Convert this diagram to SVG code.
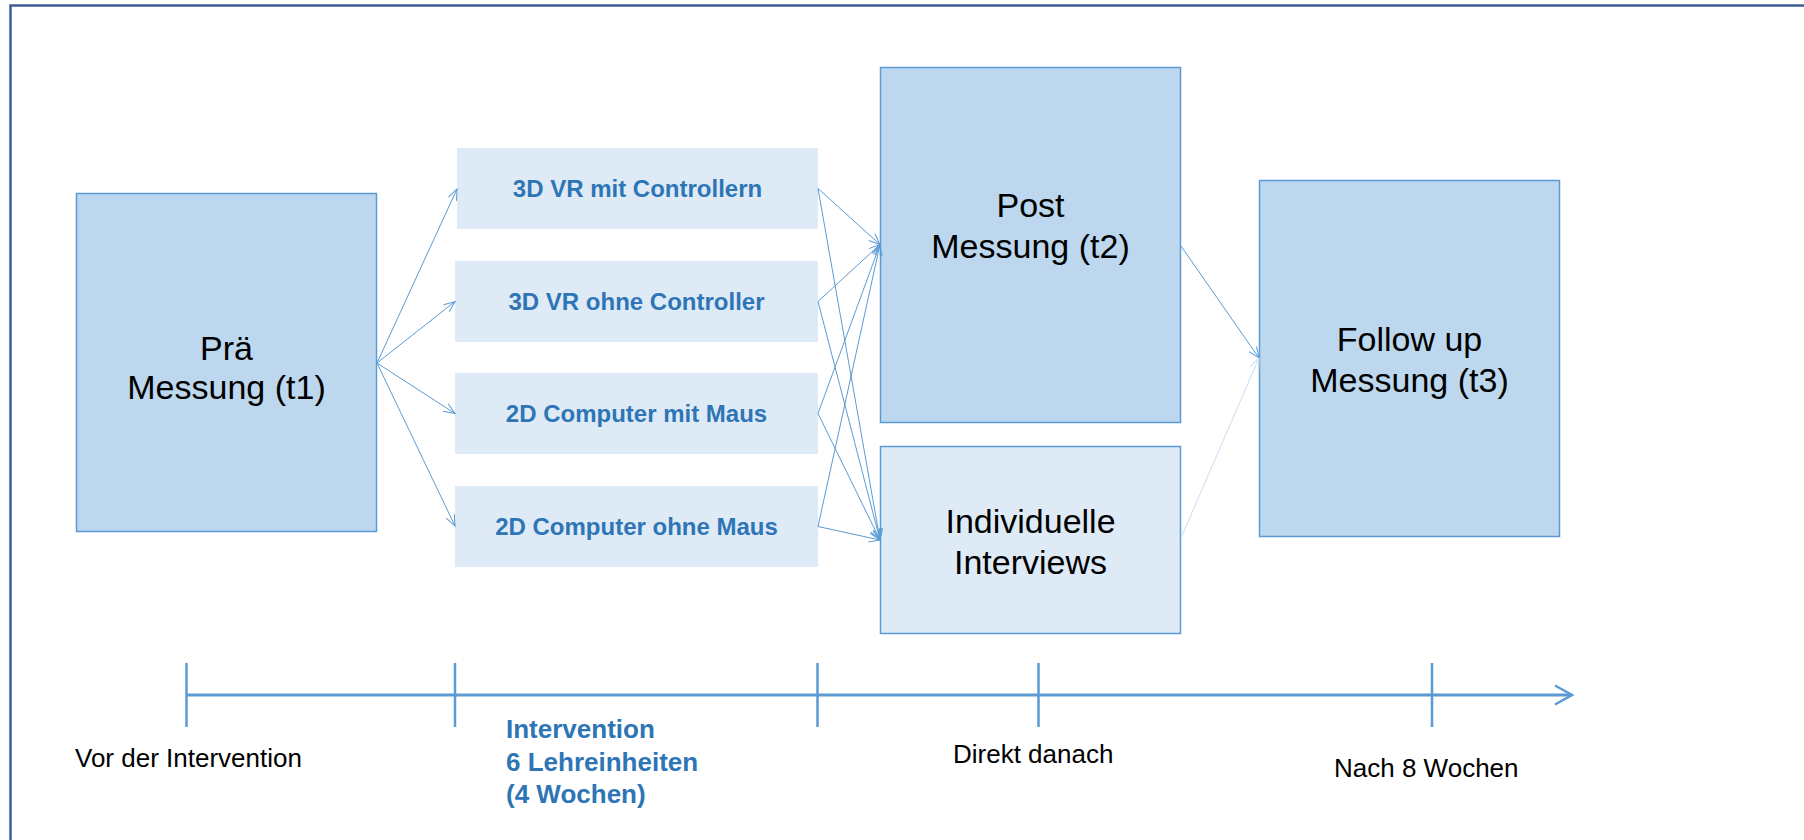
<svg xmlns="http://www.w3.org/2000/svg" width="1804" height="840" viewBox="0 0 1804 840">
<style>
.dark{fill:#bdd7ee;stroke:#5b9bd5;stroke-width:1.5}
.light{fill:#deebf7}
.lightb{fill:#deebf7;stroke:#5b9bd5;stroke-width:1.5}
.big{font-family:"Liberation Sans",Arial,sans-serif;font-size:34px;fill:#000;text-anchor:middle}
.grp{font-family:"Liberation Sans",Arial,sans-serif;font-size:24px;font-weight:bold;fill:#2e75b6;text-anchor:middle}
.lab{font-family:"Liberation Sans",Arial,sans-serif;font-size:26px;fill:#000}
.labb{font-family:"Liberation Sans",Arial,sans-serif;font-size:26px;font-weight:bold;fill:#2e75b6}
.con{stroke:#5b9bd5;stroke-width:1;fill:none;marker-end:url(#arr)}
.faint{stroke:#c9ddf2;stroke-width:1;fill:none;marker-end:url(#arrf)}
.axis{stroke:#5b9bd5;stroke-width:3;fill:none}
.tick{stroke:#5b9bd5;stroke-width:2.5}
</style>
<defs>
<marker id="arr" markerUnits="userSpaceOnUse" markerWidth="14" markerHeight="12" viewBox="-12 -6 14 12" refX="0" refY="0" orient="auto">
<path d="M-11,-4.5 L0,0 L-11,4.5" fill="none" stroke="#5b9bd5" stroke-width="1"/>
</marker>
<marker id="arrf" markerUnits="userSpaceOnUse" markerWidth="14" markerHeight="12" viewBox="-12 -6 14 12" refX="0" refY="0" orient="auto">
<path d="M-11,-4.5 L0,0 L-11,4.5" fill="none" stroke="#c9ddf2" stroke-width="1"/>
</marker>
</defs>
<rect x="0" y="0" width="1804" height="840" fill="#fff"/>
<rect x="10.5" y="5.5" width="1840" height="880" fill="none" stroke="#3f5e99" stroke-width="2.5"/>

<g id="pre">
<rect class="dark" x="76.5" y="193.5" width="300" height="338"/>
<text class="big" x="226.5" y="360">Prä</text>
<text class="big" x="226.5" y="399">Messung (t1)</text>
</g>

<g id="g1">
<rect class="light" x="457" y="148" width="361" height="81"/>
<text class="grp" x="637.5" y="197">3D VR mit Controllern</text>
</g>
<g id="g2">
<rect class="light" x="455" y="261" width="363" height="81"/>
<text class="grp" x="636.5" y="310">3D VR ohne Controller</text>
</g>
<g id="g3">
<rect class="light" x="455" y="373" width="363" height="81"/>
<text class="grp" x="636.5" y="422">2D Computer mit Maus</text>
</g>
<g id="g4">
<rect class="light" x="455" y="486" width="363" height="81"/>
<text class="grp" x="636.5" y="535">2D Computer ohne Maus</text>
</g>

<g id="post">
<rect class="dark" x="880.5" y="67.5" width="300" height="355"/>
<text class="big" x="1030.5" y="217">Post</text>
<text class="big" x="1030.5" y="258">Messung (t2)</text>
</g>

<g id="interviews">
<rect class="lightb" x="880.5" y="446.5" width="300" height="187"/>
<text class="big" x="1030.5" y="533">Individuelle</text>
<text class="big" x="1030.5" y="574">Interviews</text>
</g>

<g id="followup">
<rect class="dark" x="1259.5" y="180.5" width="300" height="356"/>
<text class="big" x="1409.5" y="351">Follow up</text>
<text class="big" x="1409.5" y="392">Messung (t3)</text>
</g>

<g id="connectors">
<line class="con" x1="377" y1="363" x2="457" y2="189"/>
<line class="con" x1="377" y1="363" x2="455" y2="301.5"/>
<line class="con" x1="377" y1="363" x2="455" y2="413.5"/>
<line class="con" x1="377" y1="363" x2="455" y2="526"/>
<line class="con" x1="818" y1="188.5" x2="880" y2="244.5"/>
<line class="con" x1="818" y1="188.5" x2="880" y2="540"/>
<line class="con" x1="818" y1="301.5" x2="880" y2="244.5"/>
<line class="con" x1="818" y1="301.5" x2="880" y2="540"/>
<line class="con" x1="818" y1="413.5" x2="880" y2="244.5"/>
<line class="con" x1="818" y1="413.5" x2="880" y2="540"/>
<line class="con" x1="818" y1="526.5" x2="880" y2="244.5"/>
<line class="con" x1="818" y1="526.5" x2="880" y2="540"/>
<line class="con" x1="1181" y1="246" x2="1259" y2="358"/>
<line class="faint" x1="1181" y1="538" x2="1259" y2="358"/>
</g>

<g id="timeline">
<line class="axis" x1="186.5" y1="695" x2="1572" y2="695"/>
<path d="M1555,685.5 L1572,695 L1555,704.5" fill="none" stroke="#5b9bd5" stroke-width="2.5"/>
<line class="tick" x1="186.5" y1="663" x2="186.5" y2="727"/>
<line class="tick" x1="455" y1="663" x2="455" y2="727"/>
<line class="tick" x1="817.5" y1="663" x2="817.5" y2="727"/>
<line class="tick" x1="1038.5" y1="663" x2="1038.5" y2="727"/>
<line class="tick" x1="1432" y1="663" x2="1432" y2="727"/>
</g>

<g id="labels">
<text class="lab" x="75" y="767">Vor der Intervention</text>
<text class="labb" x="506" y="738">Intervention</text>
<text class="labb" x="506" y="771">6 Lehreinheiten</text>
<text class="labb" x="506" y="803">(4 Wochen)</text>
<text class="lab" x="953" y="763">Direkt danach</text>
<text class="lab" x="1334" y="777">Nach 8 Wochen</text>
</g>
</svg>
